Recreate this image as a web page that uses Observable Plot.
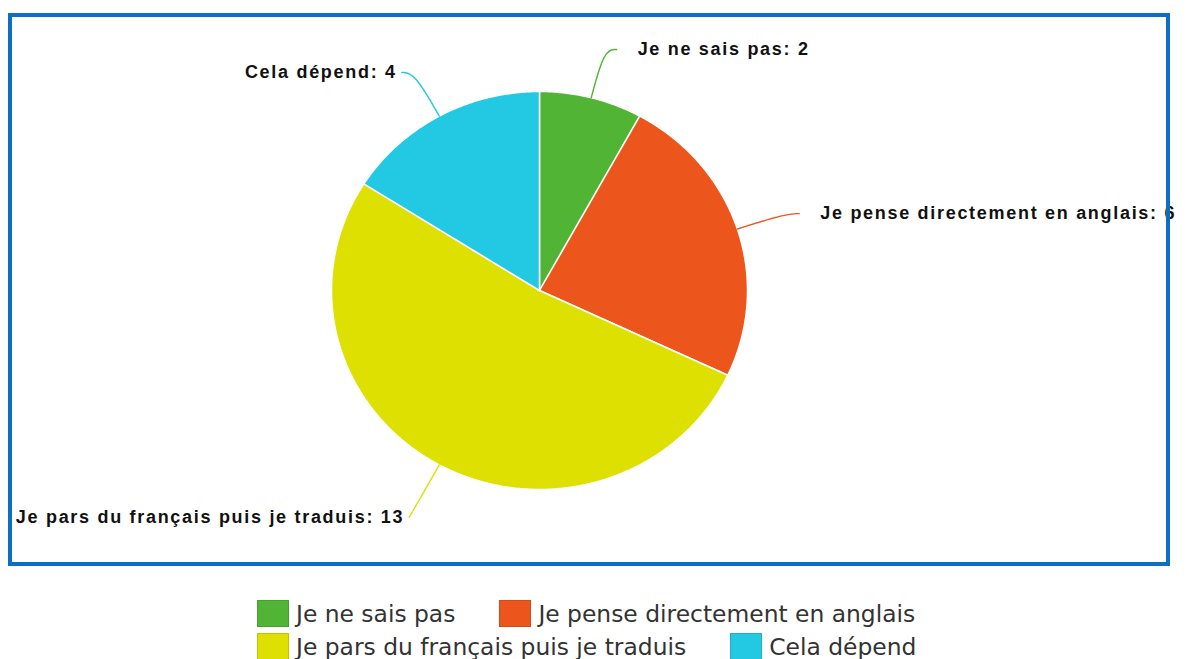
<!DOCTYPE html>
<html>
<head>
<meta charset="utf-8">
<script src="https://cdn.jsdelivr.net/npm/d3@7"></script>
<script src="https://cdn.jsdelivr.net/npm/@observablehq/plot@0.6"></script>
<style>
  html, body { margin: 0; padding: 0; background: #fff; }
  #wrap { position: relative; width: 1190px; height: 659px; overflow: hidden; }
  #chart { position: absolute; left: 0; top: 0; }
  #chart svg text { letter-spacing: 1.7px; }
  #frame { position: absolute; left: 8px; top: 13px; width: 1162px; height: 553px; box-sizing: border-box;
           border: 4px solid #0b6fc4; pointer-events: none; }
  #legend { position: absolute; left: 257px; top: 600px; width: 690px; display: flex; flex-wrap: wrap;
            column-gap: 44px; row-gap: 6px; font-family: "DejaVu Sans", sans-serif; font-size: 23.4px; color: #333; }
  .item { display: flex; align-items: center; height: 27px; }
  .sw { width: 32px; height: 27px; box-sizing: border-box; border: 1px solid rgba(0,0,0,0.12); margin-right: 7px; }
</style>
</head>
<body>
<div id="wrap">
  <div id="chart"></div>
  <div id="frame"></div>
  <div id="legend"></div>
</div>
<script>
const categories = ["Je ne sais pas", "Je pense directement en anglais", "Je pars du français puis je traduis", "Cela dépend"];
const counts = [2, 6, 13, 4];
const colors = ["#52b435", "#ec561c", "#dde000", "#23c9e3"];

const rows = categories.map((c, i) => ({cat: c, count: counts[i]}));
const arcs = d3.pie().sort(null).value(d => d.count)(rows);

// slice polygons (unit circle, angles clockwise from 12 o'clock)
const slicePts = [];
for (const a of arcs) {
  const cat = a.data.cat;
  slicePts.push({cat, x: 0, y: 0});
  const n = Math.max(2, Math.ceil((a.endAngle - a.startAngle) / (Math.PI / 360)));
  for (let k = 0; k <= n; k++) {
    const t = a.startAngle + (a.endAngle - a.startAngle) * k / n;
    slicePts.push({cat, x: Math.sin(t), y: Math.cos(t)});
  }
  slicePts.push({cat, x: 0, y: 0});
}

// leader lines and labels
const leaderPts = [];
const labels = [];
for (const a of arcs) {
  const cat = a.data.cat;
  const m = (a.startAngle + a.endAngle) / 2;
  const sx = Math.sin(m), sy = Math.cos(m);
  const side = sx >= 0 ? 1 : -1;
  const lower = sy < -0.5;
  const r = lower ? 1.3 : 1.25;
  const ex = r * sx, ey = r * sy;
  const fx = ex + side * (lower ? 0 : 0.06);
  leaderPts.push({cat, x: sx, y: sy});
  leaderPts.push({cat, x: ex, y: ey});
  leaderPts.push({cat, x: fx, y: ey});
  labels.push({cat, x: fx, y: ey, side, text: `${cat}: ${a.data.count}`});
}

const textStyle = {fontSize: 18, fontWeight: "bold", fontFamily: "Liberation Sans, Arial, sans-serif", fill: "#111", dy: 0};

const chart = Plot.plot({
  width: 1190,
  height: 570,
  x: {domain: [-1, 1], range: [331, 747], axis: null},
  y: {domain: [-1, 1], range: [489, 91], axis: null},
  color: {domain: categories, range: colors},
  marks: [
    Plot.line(slicePts, {x: "x", y: "y", z: "cat", fill: "cat", stroke: "white", strokeWidth: 1.5, strokeLinejoin: "round"}),
    Plot.line(leaderPts, {x: "x", y: "y", z: "cat", stroke: "cat", strokeWidth: 1.4, curve: "basis"}),
    Plot.text(labels.filter(d => d.side > 0), {x: "x", y: "y", text: "text", textAnchor: "start", dx: 21, ...textStyle}),
    Plot.text(labels.filter(d => d.side < 0), {x: "x", y: "y", text: "text", textAnchor: "end", dx: -5, ...textStyle})
  ]
});
document.getElementById("chart").appendChild(chart);

const legend = document.getElementById("legend");
categories.forEach((c, i) => {
  const item = document.createElement("div");
  item.className = "item";
  const sw = document.createElement("div");
  sw.className = "sw";
  sw.style.background = colors[i];
  const tx = document.createElement("span");
  tx.textContent = c;
  item.appendChild(sw);
  item.appendChild(tx);
  legend.appendChild(item);
});
</script>
</body>
</html>
